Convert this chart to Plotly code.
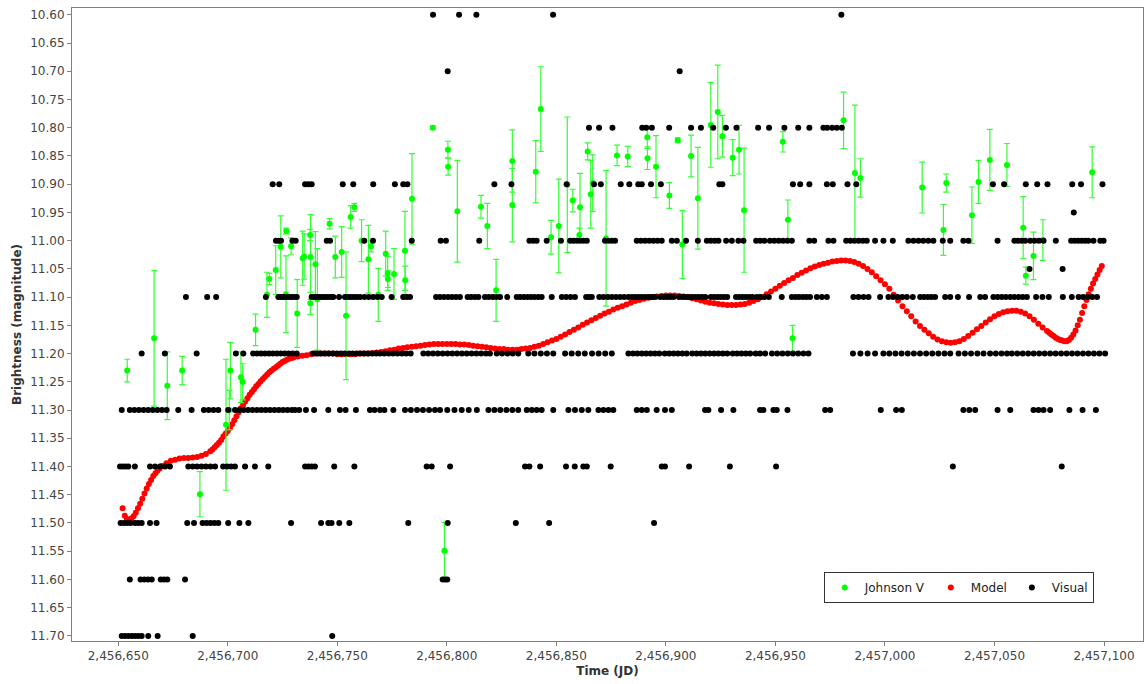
import plotly.graph_objects as go

JD_BASE = 2456650.0

# ---------------- Visual observations (JD offset from JD_BASE, grouped by magnitude) -------------
VIS_1060 = [143.7, 155.6, 163.5, 198.5, 330.1]
VIS_1070 = [150.4, 256.3]
VIS_1080 = [214.9, 219.5, 225.6, 239.2, 241, 243.6, 251.5, 261.5, 266, 271.6, 277.4, 282.2, 292.1,
            297.1, 304.1, 310.4, 315.5, 321.9, 323.6, 325.9, 328, 330.3]
VIS_1090 = [70.5, 73.5, 85.3, 86.8, 88.3, 102.5, 107.3, 116.4, 126.3, 130.1, 132, 171.7, 179.5, 204.7,
            217.2, 220.3, 229.4, 233.3, 237.4, 239, 243.2, 247.7, 274.4, 275.8, 308, 311.3, 315.5,
            323.5, 326.2, 332.9, 336.9, 399.3, 404.4, 414.3, 419.5, 424.2, 435.5, 439.5, 449.3]
VIS_1095 = [436.2]
VIS_1100 = [72, 73.2, 74.3, 79.5, 81, 95.2, 96.7, 112.3, 116.3, 134, 147.2, 149.6, 164.8, 187.7, 189.4,
            191, 195.6, 202.1, 206.3, 207.8, 209.3, 210.8, 212.4, 213.9, 222.2, 223.7, 225.3, 226.8,
            236.7, 238.6, 240.5, 242.4, 244.3, 246.2, 248.1, 252.7, 255, 259.2, 264.6, 268.7, 270.5,
            272.3, 274, 277.5, 280.1, 283.1, 285.4, 291.2, 293, 295, 297.5, 299.5, 301.5, 303.5,
            305.5, 307.5, 315.5, 317.7, 324.2, 326.5, 332.3, 334.2, 336.1, 338, 339.9, 341.7, 345.5,
            349.3, 353.6, 360.7, 363, 365.3, 367.5, 369.8, 372.1, 376.4, 379.8, 385.8, 388.1, 401.4,
            409.1, 410.7, 412.3, 414, 416.3, 418.3, 420.3, 422.4, 428, 435, 436.6, 438.2, 439.8,
            441.4, 442.9, 445.2, 448.3, 449.8]
VIS_1105 = [416, 431.1]
VIS_1110 = [30.9, 40.6, 44.7, 67.4, 73.1, 74.3, 75.5, 76.7, 77.9, 79.1, 80.3, 81.5, 88.3, 89.5, 90.8,
            92, 93.3, 94.5, 95.7, 97, 98.2, 100.8, 103.5, 104.9, 106.2, 107.6, 108.9, 110.4, 112.4,
            114.4, 116.4, 118.4, 120.3, 124.8, 130.1, 131.7, 133.2, 145.1, 146.9, 148.7, 150.6,
            152.4, 154.2, 156, 159.5, 161.1, 162.8, 164.4, 167.4, 169.1, 170.9, 172.6, 174.3, 177.6,
            181.9, 183.5, 185.2, 186.8, 188.4, 190, 191.7, 193.3, 197.9, 202.5, 204.5, 206.5, 208.5,
            213.6, 214.9, 216.2, 219.6, 221.5, 223.4, 225.3, 227.2, 229.1, 231, 232.9, 234.5, 236,
            237.5, 239, 240.5, 242, 243.5, 245, 247.5, 249, 250.5, 252, 253.5, 256, 257.5, 259,
            260.5, 262, 263.5, 265, 266.5, 268, 270.5, 272, 273.5, 275, 276.5, 278, 282, 283.5,
            285, 286.5, 288, 289.5, 291.5, 293, 295, 297, 302.9, 307.5, 309.2, 310.8, 312.5, 314.1,
            315.8, 318.9, 321.2, 323.5, 335.6, 337.9, 340.2, 342.5, 347.8, 351.6, 353.7, 355.8,
            357.9, 360, 362.7, 366.1, 367.8, 369.5, 371.2, 372.9, 377.5, 379.8, 383.3, 388.4, 393.5,
            395.7, 399.5, 401.4, 403.3, 405.2, 407.2, 409.1, 411, 412.9, 414.8, 419, 421.9, 424.8,
            431.2, 435.3, 438.4, 440.5, 442.6, 444.7, 446.8]
VIS_1120 = [10.7, 21.3, 35.8, 53.7, 57.1, 61.6, 63.4, 65.2, 67, 68.8, 70.6, 72.4, 74.2, 76, 77.8, 79.6,
            81.5, 89, 90.8, 92.6, 94.4, 96.2, 98, 99.8, 101.6, 103.4, 105.2, 107, 108.8, 110.6, 112.4,
            114.2, 116, 117.8, 119.5, 121.5, 123.5, 125.5, 127.5, 129.5, 131.5, 133.5, 139.3, 141.5,
            143.7, 145.9, 148.1, 150.3, 152.5, 154.7, 156.9, 159.1, 161.3, 163.5, 165.7, 167.9,
            169.7, 172.8, 175.2, 177.7, 180.1, 182.6, 187.2, 190, 192.9, 195.7, 198.6, 204, 207, 210,
            213, 216.3, 219.3, 222.3, 225.3, 232.9, 235, 237, 239, 241, 243, 245, 247, 249.5, 251.5,
            253.5, 255.5, 257.5, 259.5, 262, 264, 266, 268, 270, 272, 274, 276, 278, 280.5, 282.5,
            284.5, 286.5, 288.5, 291, 293, 295.3, 298.4, 300.8, 303.2, 305.6, 308, 310.4, 312.8,
            315.1, 335.4, 338.8, 342.1, 345.5, 349.3, 352, 354.8, 357.6, 360.4, 363.2, 366, 368.8,
            371.6, 374.4, 377.2, 379.8, 383.6, 386.5, 389.3, 392.2, 395, 398, 400.6, 403.2, 405.7,
            407.9, 410.4, 412.9, 415.4, 417.9, 420.4, 422.9, 425.4, 427.9, 430.4, 432.9, 435.4,
            437.9, 440.4, 442.9, 445.4, 447.9, 450.5]
VIS_1130 = [1.6, 5.3, 7.4, 9.5, 11.6, 13.7, 15.8, 17.9, 20, 22.1, 27.4, 33.5, 39.1, 41.3, 43.5, 45.7,
            50.2, 53.3, 55.3, 57.3, 59.3, 61.3, 63.3, 65.3, 67.3, 69.3, 71.3, 73.3, 75.3, 77.3, 79.3,
            80.7, 82.6, 85.7, 89.4, 95.9, 101.2, 103.8, 108.5, 114.9, 117, 119.5, 121.5, 125.6,
            130.9, 133.6, 136.4, 139.1, 141.9, 144.6, 146.9, 150.2, 153.5, 156.8, 160, 163.7, 169,
            171.7, 174.4, 177.2, 179.9, 182.6, 186.5, 188.8, 191, 193.3, 198.6, 205.5, 208.5, 211.6,
            214.6, 219.2, 221.5, 223.8, 226, 236.7, 239, 241.3, 245.8, 249.6, 252.7, 267.9, 269.4,
            275.2, 280.8, 293, 294.5, 299.1, 300.6, 305.5, 322.7, 325, 348.1, 355.1, 357.7, 385.8,
            388.5, 391.2, 401.4, 407.2, 417.8, 420.1, 422.4, 425.4, 434.2, 440.2, 446.3]
VIS_1140 = [0.8, 2.1, 3.4, 4.6, 7.6, 14.5, 16.8, 19.1, 21.4, 23.6, 32, 34, 36, 38, 40, 42.1, 44.2,
            47.9, 49.7, 51.5, 53.3, 57.9, 62.4, 68.5, 85.3, 86.8, 88.3, 89.8, 98.6, 107.8, 140.8,
            143.1, 151.5, 185.7, 187.7, 192.6, 204.4, 208.4, 212.3, 213.9, 224.8, 248.1, 249.6,
            260.6, 279.2, 300.3, 381, 430.7]
VIS_1150 = [1.1, 2.6, 4.1, 5.6, 7.6, 9.1, 10.7, 14.5, 17.5, 31.5, 34.6, 38.5, 40.3, 42.1, 43.9, 45.7,
            50.2, 55.3, 59.4, 78.9, 92.6, 95.9, 97.4, 100.9, 105.5, 132.4, 150.4, 181.5, 196.7, 244.6]
VIS_1160 = [5.3, 10.2, 11.9, 13.6, 15.3, 19.4, 20.9, 22.4, 30.5, 148.1, 149.2, 150.2]
VIS_1170 = [1.6, 3.1, 4.6, 6.2, 7.7, 9.2, 10.7, 13.7, 18, 34, 97.7]

VIS_LEVELS = [(10.60, VIS_1060), (10.70, VIS_1070), (10.80, VIS_1080), (10.90, VIS_1090),
              (10.95, VIS_1095), (11.00, VIS_1100), (11.05, VIS_1105), (11.10, VIS_1110),
              (11.20, VIS_1120), (11.30, VIS_1130), (11.40, VIS_1140), (11.50, VIS_1150),
              (11.60, VIS_1160), (11.70, VIS_1170)]

# ---------------- Johnson V observations -------------
JV_T = [4.1, 16.4, 22.4, 29.2, 37.3, 49.2, 50.7, 51.2, 56.0, 56.8, 62.7, 67.9, 69.0, 71.9, 74.2, 76.6,
        76.7, 78.9, 81.7, 84.2, 84.9, 87.6, 87.7, 87.8, 90.0, 90.9, 96.5, 99.1, 102.0, 104.0, 106.1,
        107.8, 111.1, 114.2, 115.4, 118.7, 122.1, 123.0, 123.1, 125.9, 130.9, 131.0, 134.1, 143.6,
        148.9, 150.5, 150.6, 154.8, 165.6, 168.5, 172.5, 179.9, 179.9, 190.6, 192.9, 197.6, 201.1,
        205.0, 207.5, 210.5, 210.8, 214.3, 215.7, 216.6, 222.7, 227.7, 232.6, 241.5, 241.6, 245.5,
        251.6, 255.4, 257.5, 261.5, 264.6, 270.5, 273.7, 275.8, 280.5, 283.4, 285.7, 303.4, 305.7,
        307.8, 331.1, 336.3, 338.8, 367.0, 376.7, 378.0, 389.7, 392.7, 397.9, 405.7, 413.1, 414.3,
        417.8, 422.1, 444.6]
JV_MAG = [11.230, 11.173, 11.257, 11.230, 11.449, 11.326, 11.300, 11.230, 11.242, 11.250, 11.158,
          11.096, 11.068, 11.052, 11.011, 11.095, 10.983, 11.010, 11.129, 11.031, 11.028, 10.990,
          11.111, 11.029, 11.042, 11.104, 10.970, 11.029, 11.020, 11.133, 10.958, 10.941, 11.000,
          11.033, 11.010, 11.096, 11.023, 11.058, 11.068, 11.059, 11.018, 11.070, 10.926, 10.800,
          11.549, 10.839, 10.869, 10.948, 10.940, 10.974, 11.088, 10.859, 10.937, 10.878, 10.767,
          10.994, 10.974, 10.901, 10.929, 10.990, 10.941, 10.842, 10.918, 10.898, 10.996, 10.849,
          10.851, 10.817, 10.854, 10.869, 10.920, 10.822, 11.007, 10.850, 10.925, 10.795, 10.772,
          10.815, 10.853, 10.839, 10.946, 10.825, 10.963, 11.173, 10.787, 10.880, 10.889, 10.906,
          10.981, 10.898, 10.955, 10.896, 10.857, 10.866, 10.977, 11.062, 11.027, 10.999, 10.879]
JV_ERR = [0.020, 0.120, 0.060, 0.025, 0.040, 0.116, 0.035, 0.050, 0.045, 0.032, 0.028, 0.040, 0.010,
          0.043, 0.055, 0.068, 0.005, 0.015, 0.060, 0.048, 0.040, 0.010, 0.020, 0.075, 0.058, 0.090,
          0.009, 0.037, 0.045, 0.113, 0.020, 0.007, 0.037, 0.060, 0.010, 0.047, 0.040, 0.030, 0.015,
          0.045, 0.070, 0.025, 0.080, 0.003, 0.050, 0.015, 0.015, 0.090, 0.020, 0.040, 0.055, 0.055,
          0.065, 0.055, 0.075, 0.030, 0.083, 0.120, 0.020, 0.012, 0.060, 0.015, 0.060, 0.050, 0.120,
          0.018, 0.018, 0.020, 0.020, 0.055, 0.023, 0.004, 0.060, 0.037, 0.090, 0.075, 0.083, 0.037,
          0.032, 0.043, 0.110, 0.018, 0.035, 0.023, 0.050, 0.120, 0.034, 0.045, 0.045, 0.016, 0.050,
          0.038, 0.054, 0.038, 0.055, 0.015, 0.042, 0.036, 0.045]

# ---------------- Model curve -------------
MODEL_T = [2, 3, 4, 5, 6, 7, 8, 9, 10, 11, 12, 13, 14, 15, 16, 17, 18, 19, 20, 22, 24, 26, 28, 30,
           32, 34, 36, 38, 40, 42, 43, 44, 45, 46, 47, 48, 49, 50, 51, 52, 53, 54, 55, 56, 57, 58,
           59, 60, 61, 62, 63, 64, 65, 66, 67, 68, 69, 70, 71, 72, 73, 74, 75, 76, 77, 78, 79, 80,
           82, 84, 86, 88, 90, 92, 94, 96, 98, 100, 102, 104, 106, 108, 110, 112, 114, 116, 118,
           120, 122, 124, 126, 128, 130, 132, 134, 136, 138, 140, 142, 144, 146, 148, 150, 152, 154,
           156, 158, 160, 162, 164, 166, 168, 170, 172, 174, 176, 178, 180, 182, 184, 186, 188, 190,
           192, 194, 196, 198, 200, 202, 204, 206, 208, 210, 212, 214, 216, 218, 220, 222, 224, 226,
           228, 230, 232, 234, 236, 238, 240, 242, 244, 246, 248, 250, 252, 254, 256, 258, 260, 262,
           264, 266, 268, 270, 272, 274, 276, 278, 280, 282, 284, 286, 288, 290, 292, 294, 296, 298,
           300, 302, 304, 306, 308, 310, 312, 314, 316, 318, 320, 322, 324, 326, 328, 330, 332, 334,
           336, 338, 340, 342, 344, 346, 348, 350, 352, 354, 356, 358, 360, 362, 364, 366, 368, 370,
           372, 374, 376, 378, 380, 382, 384, 386, 388, 390, 392, 394, 396, 398, 400, 402, 404, 406,
           408, 410, 412, 414, 416, 418, 420, 422, 424, 425, 426, 427, 428, 429, 430, 431, 432, 433,
           434, 435, 436, 437, 438, 439, 440, 441, 442, 443, 444, 445, 446, 447, 448, 449]
MODEL_MAG = [11.474, 11.487, 11.493, 11.495, 11.492, 11.488, 11.482, 11.474, 11.466, 11.457, 11.448,
             11.439, 11.431, 11.424, 11.417, 11.412, 11.407, 11.403, 11.399, 11.394, 11.390, 11.388,
             11.386, 11.385, 11.385, 11.384, 11.383, 11.381, 11.378, 11.373, 11.370, 11.366, 11.362,
             11.358, 11.353, 11.347, 11.342, 11.337, 11.332, 11.325, 11.318, 11.311, 11.304, 11.297,
             11.291, 11.285, 11.279, 11.273, 11.268, 11.263, 11.258, 11.254, 11.249, 11.245, 11.241,
             11.237, 11.233, 11.230, 11.227, 11.224, 11.221, 11.218, 11.215, 11.213, 11.211, 11.209,
             11.208, 11.207, 11.205, 11.204, 11.203, 11.201, 11.200, 11.200, 11.200, 11.200, 11.200,
             11.201, 11.201, 11.201, 11.201, 11.201, 11.200, 11.200, 11.200, 11.199, 11.198, 11.197,
             11.196, 11.194, 11.193, 11.191, 11.190, 11.189, 11.188, 11.187, 11.186, 11.185, 11.184,
             11.183, 11.183, 11.183, 11.183, 11.183, 11.183, 11.184, 11.184, 11.185, 11.186, 11.187,
             11.188, 11.189, 11.190, 11.191, 11.192, 11.192, 11.193, 11.193, 11.193, 11.192, 11.191,
             11.190, 11.188, 11.186, 11.183, 11.180, 11.177, 11.174, 11.170, 11.166, 11.162, 11.158,
             11.154, 11.149, 11.145, 11.141, 11.137, 11.133, 11.129, 11.126, 11.122, 11.119, 11.116,
             11.113, 11.110, 11.107, 11.105, 11.103, 11.101, 11.100, 11.099, 11.098, 11.097, 11.097,
             11.097, 11.098, 11.099, 11.100, 11.102, 11.104, 11.106, 11.108, 11.110, 11.111, 11.112,
             11.113, 11.114, 11.114, 11.114, 11.113, 11.112, 11.110, 11.107, 11.104, 11.100, 11.095,
             11.090, 11.085, 11.080, 11.075, 11.070, 11.066, 11.061, 11.057, 11.053, 11.049, 11.046,
             11.043, 11.041, 11.039, 11.037, 11.036, 11.035, 11.035, 11.036, 11.038, 11.041, 11.045,
             11.050, 11.056, 11.063, 11.070, 11.077, 11.085, 11.096, 11.106, 11.116, 11.125, 11.134,
             11.143, 11.151, 11.158, 11.164, 11.170, 11.175, 11.178, 11.180, 11.181, 11.180, 11.178,
             11.174, 11.169, 11.163, 11.157, 11.151, 11.145, 11.139, 11.134, 11.130, 11.127, 11.125,
             11.124, 11.124, 11.126, 11.129, 11.134, 11.140, 11.147, 11.154, 11.160, 11.163, 11.166,
             11.169, 11.172, 11.174, 11.176, 11.177, 11.178, 11.178, 11.176, 11.172, 11.166, 11.159,
             11.150, 11.140, 11.128, 11.116, 11.105, 11.095, 11.085, 11.076, 11.068, 11.060, 11.052,
             11.045]

X_TICKS = [2456650, 2456700, 2456750, 2456800, 2456850, 2456900, 2456950, 2457000, 2457050, 2457100]
Y_TICKS = [10.60, 10.65, 10.70, 10.75, 10.80, 10.85, 10.90, 10.95, 11.00, 11.05, 11.10, 11.15,
           11.20, 11.25, 11.30, 11.35, 11.40, 11.45, 11.50, 11.55, 11.60, 11.65, 11.70]

# ---------------- assemble -------------
vis_x, vis_y = [], []
for mag, times in VIS_LEVELS:
    for t in times:
        vis_x.append(JD_BASE + t)
        vis_y.append(mag)

FONT = "DejaVu Sans"

fig = go.Figure()

fig.add_trace(go.Scatter(
    x=[JD_BASE + t for t in MODEL_T], y=MODEL_MAG, mode="markers", name="Model",
    marker=dict(color="#ff0000", size=6, line=dict(width=0)), legendrank=2))

fig.add_trace(go.Scatter(
    x=[JD_BASE + t for t in JV_T], y=JV_MAG, mode="markers", name="Johnson V",
    marker=dict(color="#00ff00", size=6, line=dict(width=0)),
    error_y=dict(type="data", array=JV_ERR, visible=True, color="#33ff33", thickness=1.2, width=3),
    legendrank=1))

fig.add_trace(go.Scatter(
    x=vis_x, y=vis_y, mode="markers", name="Visual",
    marker=dict(color="#000000", size=6, line=dict(width=0)), legendrank=3))

axis_common = dict(
    showgrid=False, zeroline=False, showline=True, linecolor="#808080", linewidth=1, mirror=True,
    ticks="outside", ticklen=4, tickcolor="#808080",
    tickfont=dict(family=FONT, size=12, color="#444444"),
)

fig.update_xaxes(
    range=[2456628.9, 2457117.8], tickvals=X_TICKS, tickformat=",d",
    title=dict(text="<b>Time (JD)</b>", font=dict(family=FONT, size=12, color="#333333"), standoff=4),
    **axis_common)
fig.update_yaxes(
    range=[11.709, 10.588], tickvals=Y_TICKS, tickformat=".2f",
    title=dict(text="<b>Brightness (magnitude)</b>", font=dict(family=FONT, size=12, color="#333333"),
               standoff=6),
    **axis_common)

fig.update_layout(
    width=1144, height=684, autosize=False,
    margin=dict(l=72, r=1, t=8, b=43),
    paper_bgcolor="white", plot_bgcolor="white",
    font=dict(family=FONT, size=12, color="#333333"),
    legend=dict(orientation="h", x=0.954, y=0.0845, xanchor="right", yanchor="middle",
                bgcolor="white", bordercolor="#333333", borderwidth=1,
                font=dict(family=FONT, size=12, color="#222222"),
                itemwidth=30, tracegroupgap=0),
    showlegend=True,
)

fig.write_html("out.html")
